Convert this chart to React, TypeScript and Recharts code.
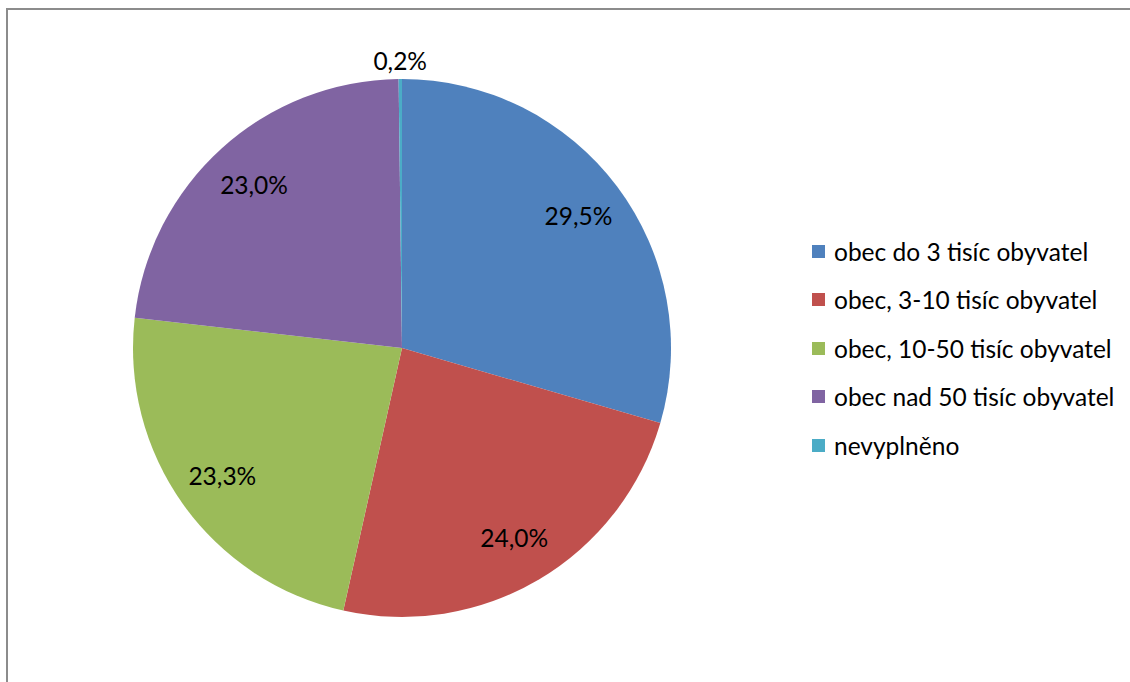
import React from 'react';
import { PieChart, Pie, Cell, Legend } from 'recharts';

const categories = [
  'obec do 3 tisíc obyvatel',
  'obec, 3-10 tisíc obyvatel',
  'obec, 10-50 tisíc obyvatel',
  'obec nad 50 tisíc obyvatel',
  'nevyplněno',
];
const shares = [29.5, 24.0, 23.3, 23.0, 0.2];
const colors = ['#4F81BD', '#C0504D', '#9BBB59', '#8064A2', '#4BACC6'];

const data = categories.map((name, i) => ({ name, value: shares[i] }));

const FONT = 'Lato, "Open Sans", sans-serif';
const RAD = Math.PI / 180;

const renderLabel = (props: any) => {
  const { cx, cy, midAngle, outerRadius, value } = props;
  // tiny slices get their label outside the pie
  const r = value < 1 ? outerRadius + 19 : outerRadius * 0.82;
  const x = cx + r * Math.cos(-midAngle * RAD);
  const y = cy + r * Math.sin(-midAngle * RAD);
  return (
    <text x={x} y={y} fill="#000" fontSize={24.5} fontFamily={FONT} textAnchor="middle" dominantBaseline="central">
      {value.toFixed(1).replace('.', ',')}%
    </text>
  );
};

const renderLegend = () => (
  <div style={{ fontFamily: FONT, fontSize: 24.5, color: '#000' }}>
    {data.map((d, i) => (
      <div key={d.name} style={{ display: 'flex', alignItems: 'center', height: 48.5 }}>
        <span style={{ width: 13, height: 13, background: colors[i], marginRight: 9, display: 'inline-block' }} />
        <span>{d.name}</span>
      </div>
    ))}
  </div>
);

export default function App() {
  return (
    <div style={{ position: 'absolute', left: 0, top: 0, width: 1130, height: 682, overflow: 'hidden', background: '#fff' }}>
      <div
        style={{
          position: 'absolute',
          left: 6,
          top: 8,
          width: 1300,
          height: 900,
          borderLeft: '2px solid #8c8c8c',
          borderTop: '2px solid #8c8c8c',
        }}
      />
      <div style={{ position: 'absolute', left: 0, top: 0 }}>
        <PieChart width={1130} height={682} margin={{ top: 0, right: 0, bottom: 0, left: 0 }}>
          <Pie
            data={data}
            dataKey="value"
            nameKey="name"
            cx={402}
            cy={348}
            outerRadius={269}
            startAngle={90}
            endAngle={-270}
            stroke="none"
            label={renderLabel}
            labelLine={false}
            isAnimationActive={false}
          >
            {data.map((d, i) => (
              <Cell key={d.name} fill={colors[i]} />
            ))}
          </Pie>
          <Legend
            content={renderLegend}
            layout="vertical"
            wrapperStyle={{ position: 'absolute', left: 812, top: 227, width: 320 }}
          />
        </PieChart>
      </div>
    </div>
  );
}
